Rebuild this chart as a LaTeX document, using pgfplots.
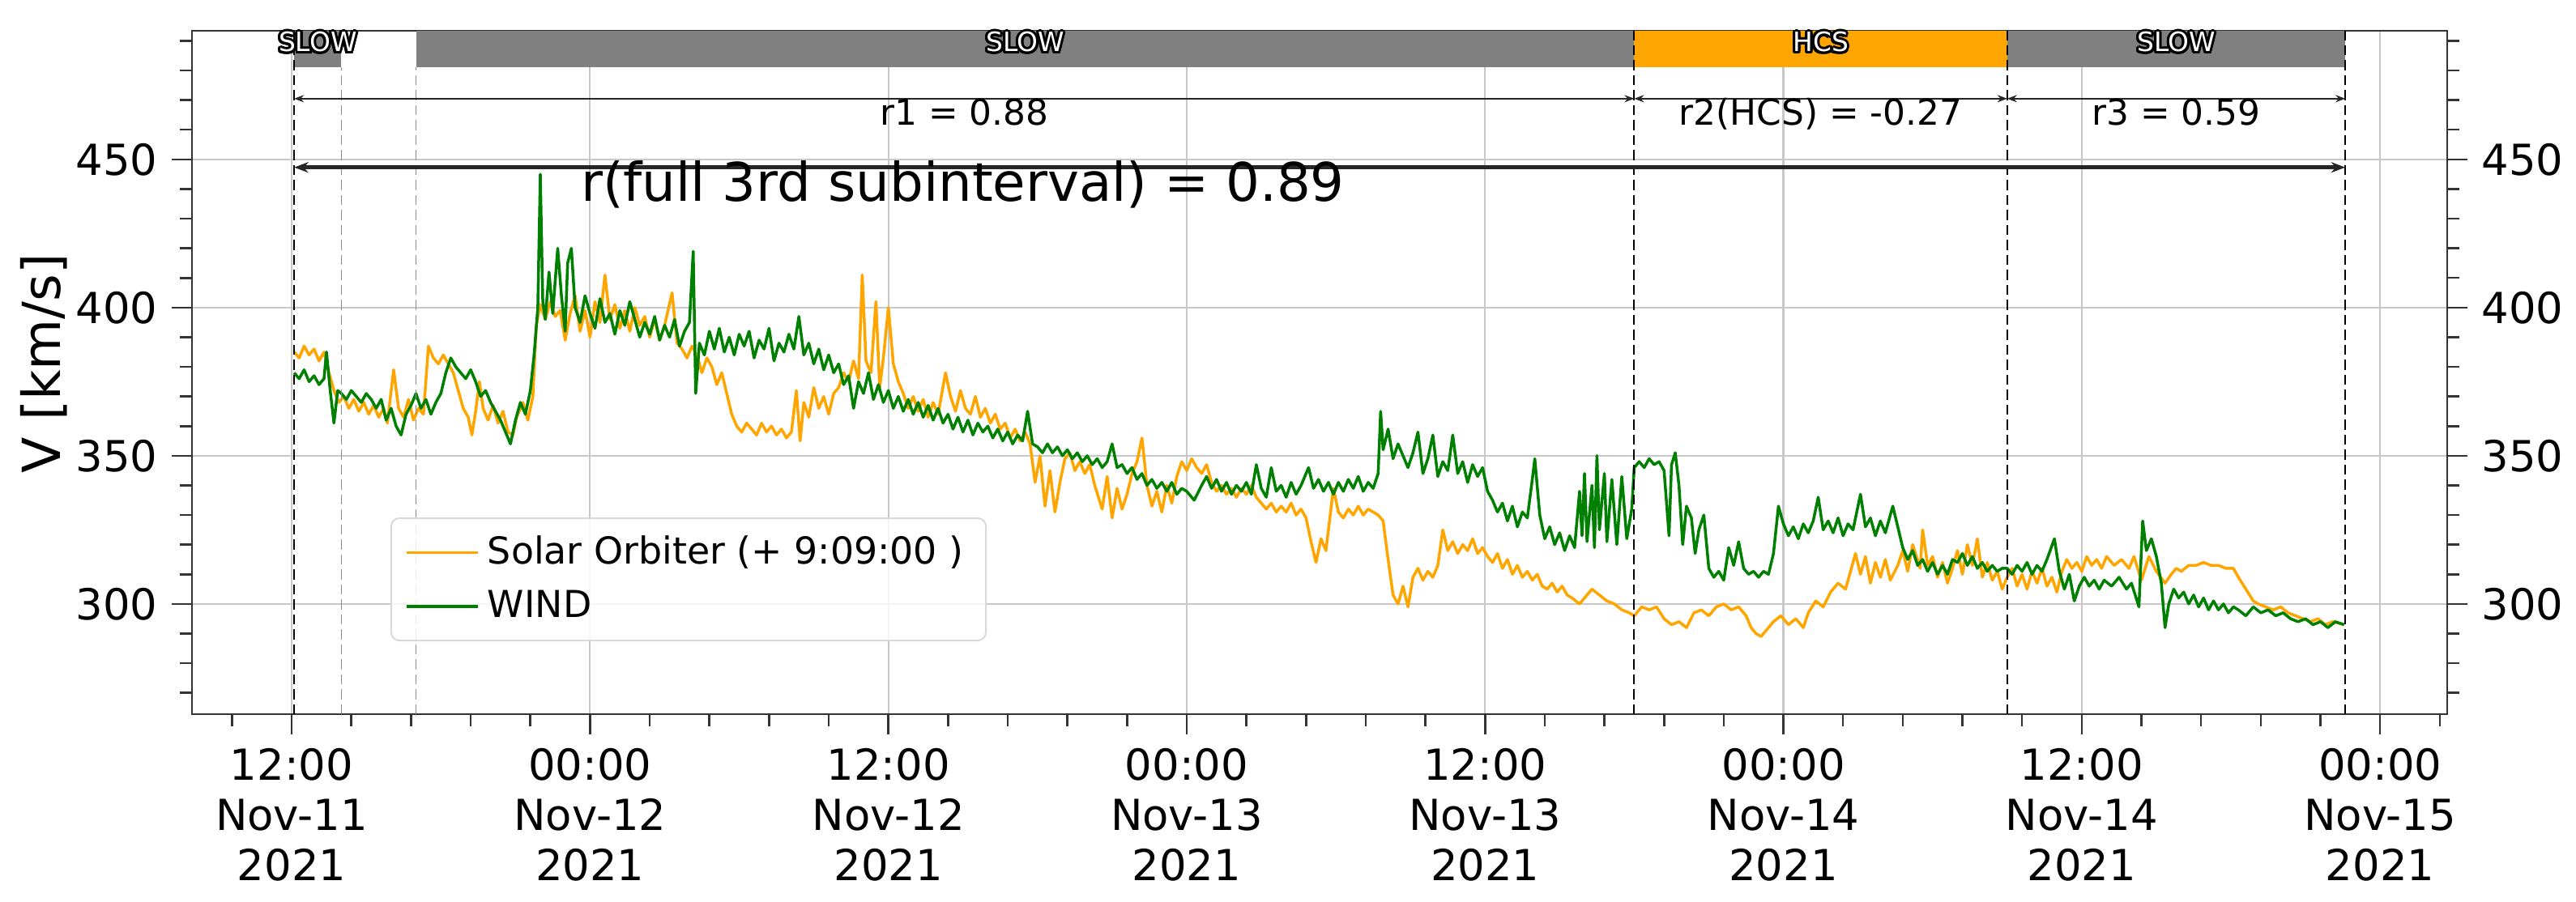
\documentclass[border=0pt]{standalone}
\usepackage{fontspec}
\setmainfont{DejaVu Sans}
\usepackage{pgfplots}
\usepackage{pgfplotstable}
\pgfplotsset{compat=1.18}
\usetikzlibrary{arrows.meta}

\definecolor{soloorange}{HTML}{FFA500}
\definecolor{windgreen}{HTML}{008000}
\definecolor{bargray}{HTML}{808080}
\definecolor{gridgray}{HTML}{C8C8C8}

% hours since 2021-11-11 00:00, speed in km/s
\pgfplotstableread{
h v
12.1 385
12.3 383
12.5 387
12.7 384
12.9 386
13.1 382
13.3 385
13.5 378
13.7 372
13.9 368
14.1 370
14.3 366
14.5 369
14.7 365
14.9 368
15.1 364
15.3 367
15.5 363
15.7 366
15.85 361
16.1 379
16.3 366
16.5 363
16.7 369
16.9 362
17.1 366
17.3 364
17.5 387
17.7 383
17.9 381
18.1 384
18.3 381
18.5 378
18.7 372
18.9 366
19.1 363
19.25 357
19.4 365
19.55 375
19.7 366
19.9 362
20.1 367
20.3 361
20.5 365
20.7 358
20.9 357
21.05 363
21.3 368
21.5 362
21.7 370
21.84 394
22.0 401
22.2 396
22.4 402
22.6 397
22.8 399
23.0 389
23.2 398
23.4 404
23.6 392
23.8 399
24.0 390
24.2 402
24.4 395
24.6 411
24.8 396
25.0 401
25.2 393
25.4 399
25.6 392
25.8 400
26.0 394
26.2 397
26.4 390
26.6 396
26.8 389
27.0 394
27.3 405
27.5 388
27.7 386
27.9 383
28.1 387
28.3 384
28.5 378
28.7 383
28.9 380
29.1 374
29.3 378
29.5 371
29.7 364
29.9 360
30.1 358
30.3 361
30.5 359
30.7 357
30.9 361
31.1 358
31.3 360
31.5 357
31.7 359
31.9 356
32.1 358
32.3 372
32.45 355
32.6 368
32.8 363
33.0 373
33.2 366
33.4 370
33.6 364
33.8 371
34.0 373
34.2 378
34.4 375
34.6 382
34.8 376
34.95 411
35.1 382
35.3 378
35.5 402
35.65 373
35.8 383
36.0 400
36.2 381
36.4 375
36.6 371
36.8 366
37.0 370
37.2 365
37.4 369
37.6 363
37.8 368
38.0 364
38.3 378
38.5 370
38.7 365
38.9 372
39.1 366
39.3 364
39.5 370
39.7 363
39.9 366
40.1 361
40.3 364
40.5 359
40.7 361
40.9 356
41.1 359
41.3 355
41.5 358
41.7 354
41.9 341
42.1 350
42.3 333
42.5 345
42.7 331
42.9 341
43.1 349
43.3 351
43.5 345
43.7 348
43.9 344
44.1 347
44.3 340
44.6 332
44.8 343
45.0 329
45.2 339
45.4 332
45.6 337
45.8 344
46.0 348
46.2 356
46.4 340
46.6 333
46.8 338
47.0 331
47.2 340
47.4 334
47.6 343
47.8 348
48.0 345
48.2 349
48.4 346
48.6 344
48.8 347
49.0 341
49.2 338
49.4 340
49.6 337
49.8 339
50.0 336
50.2 339
50.4 337
50.6 340
50.8 336
51.0 334
51.2 332
51.4 334
51.6 331
51.8 333
52.0 331
52.2 334
52.4 330
52.6 332
52.8 329
53.0 321
53.2 314
53.4 322
53.6 318
53.9 339
54.1 331
54.3 329
54.5 332
54.7 330
54.9 333
55.1 330
55.3 332
55.5 331
55.7 330
55.9 328
56.1 315
56.3 303
56.5 300
56.7 306
56.9 299
57.1 309
57.3 312
57.5 308
57.7 311
57.9 309
58.1 313
58.3 325
58.5 318
58.7 321
58.9 317
59.1 320
59.3 318
59.5 322
59.7 317
59.9 319
60.1 316
60.3 314
60.5 317
60.7 312
60.9 315
61.1 310
61.3 313
61.5 309
61.7 311
61.9 308
62.1 310
62.3 306
62.5 305
62.7 307
62.9 304
63.1 306
63.3 303
63.5 302
63.8 300
64.0 302
64.3 305
64.6 303
64.9 301
65.2 300
65.5 298
65.8 297
66.0 296
66.3 299
66.6 298
66.9 299
67.2 295
67.5 293
67.8 294
68.1 292
68.4 297
68.7 298
69.0 296
69.3 299
69.6 300
69.9 298
70.2 299
70.5 296
70.7 292
70.9 290
71.1 289
71.3 291
71.6 294
71.9 296
72.2 293
72.5 295
72.8 292
73.0 297
73.3 301
73.6 299
73.9 304
74.2 307
74.5 305
74.7 311
74.9 317
75.1 310
75.3 316
75.5 307
75.7 314
75.9 309
76.1 315
76.3 308
76.6 313
76.8 318
77.0 311
77.2 320
77.5 312
77.6 325
77.8 313
78.0 316
78.2 309
78.4 314
78.6 307
78.8 312
79.0 318
79.2 310
79.4 320
79.6 313
79.8 322
80.0 309
80.2 314
80.4 308
80.6 311
80.8 305
81.0 309
81.2 312
81.4 306
81.6 310
81.8 305
82.0 311
82.2 307
82.4 312
82.6 306
82.8 309
83.0 304
83.2 311
83.4 315
83.6 312
83.8 314
84.0 311
84.2 316
84.4 313
84.6 315
84.8 312
85.0 316
85.3 313
85.6 315
85.9 312
86.1 316
86.4 308
86.7 316
87.0 311
87.35 307
87.6 310
87.8 312
88.0 311
88.3 313
88.6 313
88.9 314
89.2 313
89.5 313
89.8 312
90.1 312
90.3 309
90.6 305
90.9 301
91.1 300
91.4 299
91.7 298
92.0 299
92.3 297
92.6 296
92.9 295
93.2 294
93.5 295
93.8 293
94.1 294
94.55 293
}\solo

\pgfplotstableread{
h v
12.1 378
12.3 376
12.5 379
12.7 375
12.9 377
13.1 374
13.3 376
13.4 385
13.55 372
13.7 361
13.85 372
14.0 371
14.2 369
14.4 372
14.6 370
14.8 368
15.0 371
15.2 369
15.4 366
15.6 369
15.8 362
16.0 366
16.2 360
16.4 357
16.6 364
16.8 367
17.0 371
17.2 366
17.4 369
17.6 364
17.8 368
18.0 371
18.2 378
18.4 383
18.6 380
18.8 378
19.0 376
19.2 379
19.4 375
19.6 370
19.8 372
20.0 368
20.2 365
20.4 362
20.6 358
20.8 354
21.0 362
21.2 368
21.4 364
21.6 372
21.75 384
21.9 400
22.0 445
22.1 402
22.2 396
22.35 412
22.5 398
22.7 420
22.85 404
23.0 392
23.1 415
23.25 420
23.4 400
23.6 395
23.8 404
24.0 398
24.2 393
24.4 403
24.6 395
24.8 398
25.0 391
25.2 399
25.4 394
25.6 402
25.8 396
26.0 390
26.2 395
26.4 391
26.6 397
26.8 389
27.0 394
27.2 390
27.4 396
27.6 387
27.8 392
28.0 395
28.15 419
28.25 371
28.4 388
28.6 384
28.8 392
29.0 386
29.2 393
29.4 385
29.6 390
29.8 384
30.0 391
30.2 387
30.4 392
30.6 383
30.8 389
31.0 386
31.2 393
31.4 382
31.6 388
31.8 385
32.0 391
32.2 386
32.4 397
32.6 384
32.8 388
33.0 381
33.2 386
33.4 379
33.6 384
33.8 378
34.0 381
34.2 374
34.4 377
34.6 366
34.8 375
35.0 371
35.2 378
35.4 369
35.6 374
35.8 368
36.0 372
36.2 366
36.4 370
36.6 365
36.8 369
37.0 364
37.2 368
37.4 363
37.6 367
37.8 362
38.0 366
38.2 361
38.4 364
38.6 359
38.8 363
39.0 358
39.2 362
39.4 357
39.6 361
39.8 358
40.0 360
40.2 356
40.4 359
40.6 355
40.8 358
41.0 354
41.2 357
41.4 355
41.6 365
41.8 354
42.0 353
42.2 351
42.4 354
42.6 351
42.8 353
43.0 350
43.2 352
43.4 349
43.6 351
43.8 348
44.0 350
44.2 347
44.4 349
44.6 346
44.8 348
45.0 354
45.2 346
45.4 347
45.6 344
45.8 346
46.0 342
46.2 344
46.4 340
46.6 342
46.8 339
47.0 341
47.2 338
47.4 341
47.6 337
47.8 339
48.0 338
48.3 335
48.6 340
48.8 343
49.0 339
49.2 342
49.4 338
49.6 341
49.8 337
50.0 340
50.2 338
50.4 341
50.6 337
50.8 347
51.0 339
51.2 336
51.4 346
51.6 338
51.8 340
52.0 336
52.2 341
52.4 337
52.6 340
52.9 346
53.1 339
53.3 342
53.5 338
53.7 341
53.9 337
54.1 341
54.3 338
54.5 342
54.7 339
54.9 343
55.1 338
55.3 341
55.5 339
55.7 344
55.8 365
55.9 352
56.1 359
56.3 349
56.5 354
56.7 350
56.9 346
57.1 351
57.3 358
57.5 344
57.7 349
57.9 357
58.1 343
58.3 348
58.5 345
58.7 357
58.9 344
59.1 348
59.3 341
59.5 347
59.7 343
59.9 346
60.1 338
60.3 335
60.5 331
60.7 334
60.9 328
61.1 333
61.3 326
61.5 331
61.7 329
61.9 342
62.0 349
62.2 330
62.4 322
62.6 326
62.8 320
63.0 324
63.2 318
63.4 323
63.6 319
63.8 338
63.9 323
64.0 344
64.1 321
64.3 340
64.4 319
64.5 350
64.6 325
64.8 344
64.9 321
65.1 342
65.3 320
65.5 343
65.7 322
65.9 332
66.0 346
66.2 348
66.4 346
66.6 349
66.8 347
67.0 348
67.2 345
67.4 323
67.5 347
67.65 351
67.8 340
67.95 320
68.1 333
68.3 329
68.45 317
68.6 325
68.8 330
69.0 312
69.2 309
69.4 311
69.6 308
69.8 319
70.0 313
70.2 321
70.4 312
70.6 310
70.8 311
71.0 309
71.2 311
71.4 310
71.6 317
71.8 333
72.0 327
72.2 323
72.4 326
72.6 322
72.8 327
73.0 324
73.2 328
73.4 336
73.6 325
73.8 328
74.0 324
74.2 329
74.4 323
74.6 327
74.8 325
75.1 337
75.3 326
75.5 329
75.7 323
75.9 328
76.1 324
76.4 333
76.6 326
76.8 319
77.0 315
77.2 318
77.4 313
77.6 315
77.8 311
78.0 314
78.2 310
78.4 313
78.6 310
78.8 315
79.0 314
79.2 317
79.4 313
79.6 316
79.8 312
80.0 314
80.2 311
80.4 313
80.6 311
80.8 312
81.0 312
81.2 310
81.4 313
81.6 311
81.8 314
82.0 310
82.2 313
82.4 311
82.6 315
82.9 322
83.1 311
83.3 305
83.5 310
83.7 301
83.9 306
84.1 309
84.3 306
84.5 308
84.7 305
84.9 308
85.2 306
85.5 309
85.8 305
86.0 307
86.3 299
86.45 328
86.6 318
86.8 322
87.0 316
87.2 307
87.35 292
87.5 300
87.7 305
87.9 302
88.1 304
88.3 300
88.5 303
88.7 299
88.9 302
89.1 298
89.3 301
89.5 298
89.7 300
89.9 297
90.1 299
90.3 298
90.6 296
90.9 299
91.2 297
91.5 298
91.8 296
92.1 297
92.4 295
92.7 294
93.0 295
93.3 293
93.6 294
93.9 292
94.2 294
94.55 293
}\wind

\pgfplotsset{
  vbase/.style={
    scale only axis, width=556.8bp, height=168.8bp,
    xmin=7.99, xmax=98.70, ymin=262.8, ymax=493.4,
    ytick={300,350,400,450},
    minor ytick={270,280,290,310,320,330,340,360,370,380,390,410,420,430,440,460,470,480,490},
    tick align=outside,
    major tick length=5bp, minor tick length=3bp,
    every tick/.style={black!80, line width=0.5bp},
    axis line style={black!80, line width=0.55bp},
    ticklabel style={font=\fontsize{10.6}{12.4}\selectfont},
    /pgf/number format/assume math mode=true,
  },
}
\tikzset{barlab/.style={anchor=base, inner sep=0pt, font=\fontsize{6.6}{7}\selectfont}}

\begin{document}
\begin{tikzpicture}
\begin{axis}[vbase, name=main,
    xtick={12,24,36,48,60,72,84,96},
    xticklabels={{12:00\\Nov-11\\2021},{00:00\\Nov-12\\2021},{12:00\\Nov-12\\2021},
      {00:00\\Nov-13\\2021},{12:00\\Nov-13\\2021},{00:00\\Nov-14\\2021},
      {12:00\\Nov-14\\2021},{00:00\\Nov-15\\2021}},
    xticklabel style={align=center},
    minor xtick={9.6,14.4,16.8,19.2,21.6,26.4,28.8,31.2,33.6,38.4,40.8,43.2,45.6,
      50.4,52.8,55.2,57.6,62.4,64.8,67.2,69.6,74.4,76.8,79.2,81.6,86.4,88.8,91.2,93.6,98.4},
    xtick pos=bottom, ytick pos=left,
    grid=major, major grid style={gridgray, line width=0.45bp},
    ylabel={V [km/s]},
    ylabel style={font=\fontsize{13}{15}\selectfont, at={(axis description cs:-0.0657,0.513)}, anchor=center},
    legend style={at={(axis description cs:0.088,0.1066)}, anchor=south west,
      draw=black!15, fill=white, fill opacity=0.8, text opacity=1,
      rounded corners=2bp, font=\fontsize{9.2}{10.8}\selectfont,
      inner xsep=3.5bp, inner ysep=2.3bp, row sep=1.0bp},
    legend cell align=left,
    legend image code/.code={\draw[#1] (0bp,0bp) -- (17.6bp,0bp);},
  ]
  % regime bars along the top
  \addplot[fill=bargray, draw=none, forget plot] coordinates {(12.1,481.1) (14.0,481.1) (14.0,493.4) (12.1,493.4)} -- cycle;
  \addplot[fill=bargray, draw=none, forget plot] coordinates {(17.0,481.1) (66.0,481.1) (66.0,493.4) (17.0,493.4)} -- cycle;
  \addplot[fill=soloorange, draw=none, forget plot] coordinates {(66.0,481.1) (81.0,481.1) (81.0,493.4) (66.0,493.4)} -- cycle;
  \addplot[fill=bargray, draw=none, forget plot] coordinates {(81.0,481.1) (94.6,481.1) (94.6,493.4) (81.0,493.4)} -- cycle;

  \addplot[soloorange, line width=0.7bp, line join=round] table[x=h, y=v] {\solo};
  \addlegendentry{Solar Orbiter (+ 9:09:00 )}
  \addplot[windgreen, line width=0.7bp, line join=round] table[x=h, y=v] {\wind};
  \addlegendentry{WIND}

  % interval boundaries
  \addplot[black!45, line width=0.35bp, dash pattern=on 2.5bp off 1.2bp, forget plot] coordinates {(14.0,262.8) (14.0,481.1)};
  \addplot[black!45, line width=0.35bp, dash pattern=on 2.5bp off 1.2bp, forget plot] coordinates {(17.0,262.8) (17.0,481.1)};
  \addplot[black, line width=0.4bp, dash pattern=on 2.5bp off 1.2bp, forget plot] coordinates {(12.1,262.8) (12.1,493.4)};
  \addplot[black, line width=0.4bp, dash pattern=on 2.5bp off 1.2bp, forget plot] coordinates {(66.0,262.8) (66.0,493.4)};
  \addplot[black, line width=0.4bp, dash pattern=on 2.5bp off 1.2bp, forget plot] coordinates {(81.0,262.8) (81.0,493.4)};
  \addplot[black, line width=0.4bp, dash pattern=on 2.5bp off 1.2bp, forget plot] coordinates {(94.6,262.8) (94.6,493.4)};

  % correlation arrows
  \addplot[black!85, line width=0.35bp, {Stealth[length=2.4bp,width=1.8bp]}-{Stealth[length=2.4bp,width=1.8bp]}, forget plot] coordinates {(12.1,470.5) (66.0,470.5)};
  \addplot[black!85, line width=0.35bp, {Stealth[length=2.4bp,width=1.8bp]}-{Stealth[length=2.4bp,width=1.8bp]}, forget plot] coordinates {(66.0,470.5) (81.0,470.5)};
  \addplot[black!85, line width=0.35bp, {Stealth[length=2.4bp,width=1.8bp]}-{Stealth[length=2.4bp,width=1.8bp]}, forget plot] coordinates {(81.0,470.5) (94.6,470.5)};
  \addplot[black!85, line width=0.9bp, {Stealth[length=3.5bp,width=2.6bp]}-{Stealth[length=3.5bp,width=2.6bp]}, forget plot] coordinates {(12.1,447.3) (94.6,447.3)};

  \node[anchor=base, inner sep=0pt, font=\fontsize{8.8}{10}\selectfont] at (axis cs:39.05,461.5) {r1 = 0.88};
  \node[anchor=base, inner sep=0pt, font=\fontsize{8.8}{10}\selectfont] at (axis cs:73.5,461.5) {r2(HCS) = -0.27};
  \node[anchor=base, inner sep=0pt, font=\fontsize{8.8}{10}\selectfont] at (axis cs:87.8,461.5) {r3 = 0.59};
  \node[anchor=base west, inner sep=0pt, font=\fontsize{13.2}{15}\selectfont] at (axis cs:23.6,435.8) {r(full 3rd subinterval) = 0.89};

  \coordinate (lab1) at (axis cs:13.05,486.3);
  \coordinate (lab2) at (axis cs:41.5,486.3);
  \coordinate (lab3) at (axis cs:73.5,486.3);
  \coordinate (lab4) at (axis cs:87.8,486.3);
\end{axis}

% right-hand tick labels
\begin{axis}[vbase,
    axis x line=none, axis y line*=right,
    yticklabel pos=right,
  ]
\end{axis}

% white labels with a black outline
\foreach \dx/\dy in {0.6/0,-0.6/0,0/0.6,0/-0.6,0.42/0.42,-0.42/0.42,0.42/-0.42,-0.42/-0.42,
    0.55/0.23,-0.55/0.23,0.55/-0.23,-0.55/-0.23,0.23/0.55,-0.23/0.55,0.23/-0.55,-0.23/-0.55} {
  \node[barlab, text=black] at ([shift={(\dx bp,\dy bp)}]lab1) {SLOW};
  \node[barlab, text=black] at ([shift={(\dx bp,\dy bp)}]lab2) {SLOW};
  \node[barlab, text=black] at ([shift={(\dx bp,\dy bp)}]lab3) {HCS};
  \node[barlab, text=black] at ([shift={(\dx bp,\dy bp)}]lab4) {SLOW};
}
\node[barlab, text=white] at (lab1) {SLOW};
\node[barlab, text=white] at (lab2) {SLOW};
\node[barlab, text=white] at (lab3) {HCS};
\node[barlab, text=white] at (lab4) {SLOW};

\pgfresetboundingbox
\path ([shift={(-47.4bp,-46.2bp)}]main.south west) rectangle ([shift={(31.8bp,7.6bp)}]main.north east);
\end{tikzpicture}
\end{document}
